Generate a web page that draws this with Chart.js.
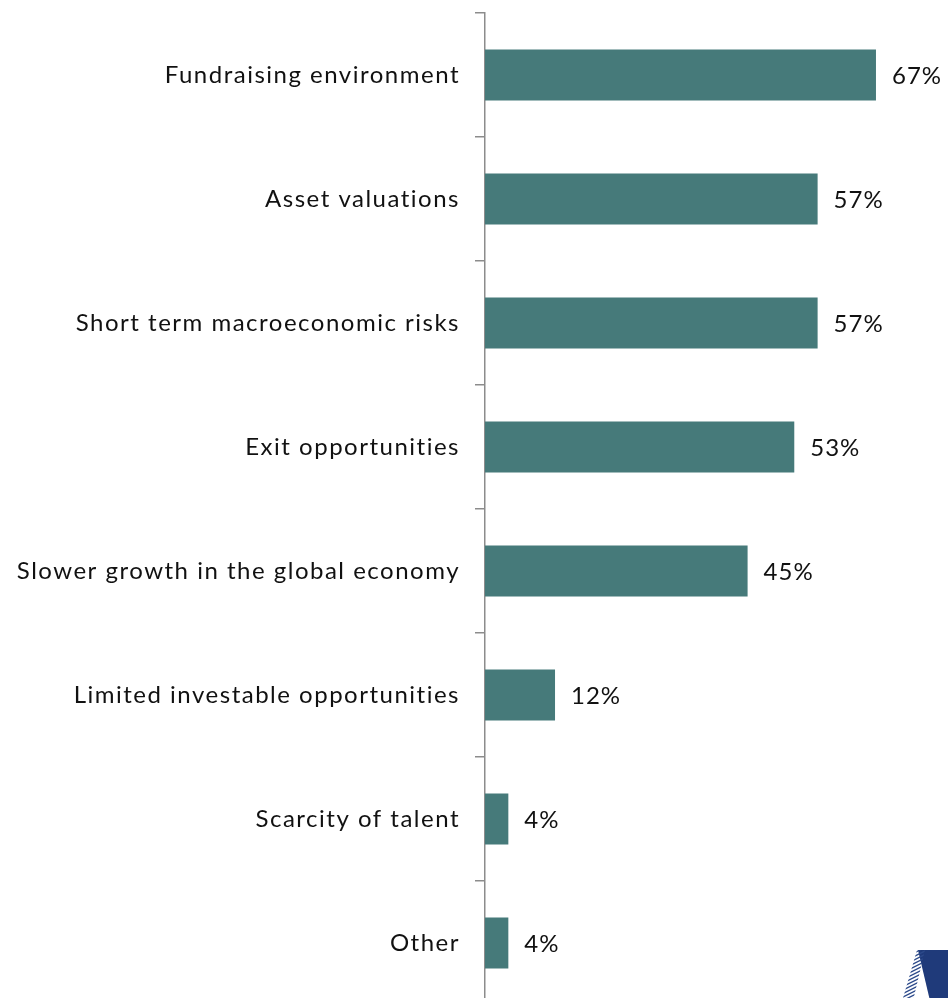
<!DOCTYPE html>
<html>
<head>
<meta charset="utf-8">
<script src="https://cdn.jsdelivr.net/npm/chart.js@4"></script>
<style>
html,body{margin:0;padding:0;background:#fff;overflow:hidden;}
#wrap{width:948px;height:1005px;position:relative;}
</style>
</head>
<body>
<div id="wrap"><canvas id="c" width="948" height="1005"></canvas></div>
<script>
const categories = [
  "Fundraising environment",
  "Asset valuations",
  "Short term macroeconomic risks",
  "Exit opportunities",
  "Slower growth in the global economy",
  "Limited investable opportunities",
  "Scarcity of talent",
  "Other"
];
const values = [67, 57, 57, 53, 45, 12, 4, 4];
const valueLabels = ["67%", "57%", "57%", "53%", "45%", "12%", "4%", "4%"];

const FONT = "Lato, 'Open Sans', sans-serif";

const spacingPlugin = {
  id: 'spacing',
  beforeDraw(chart) {
    chart.ctx.letterSpacing = '1.5px';
  }
};

const valueLabelPlugin = {
  id: 'valueLabels',
  afterDatasetsDraw(chart) {
    const ctx = chart.ctx;
    const meta = chart.getDatasetMeta(0);
    ctx.save();
    ctx.letterSpacing = '1px';
    ctx.font = "24px " + FONT;
    ctx.fillStyle = "#111";
    ctx.textAlign = "left";
    ctx.textBaseline = "middle";
    meta.data.forEach((bar, i) => {
      ctx.fillText(valueLabels[i], bar.x + 16, bar.y + 1);
    });
    ctx.restore();
  }
};

const logoPlugin = {
  id: 'logo',
  afterDraw(chart) {
    const ctx = chart.ctx;
    ctx.save();
    ctx.fillStyle = "#1f3a7a";
    ctx.beginPath();
    ctx.moveTo(918, 950); ctx.lineTo(948, 950); ctx.lineTo(948, 1005); ctx.lineTo(931, 1005);
    ctx.closePath(); ctx.fill();
    ctx.beginPath();
    ctx.moveTo(917, 950); ctx.lineTo(925, 950); ctx.lineTo(912, 1005); ctx.lineTo(901, 1005);
    ctx.closePath(); ctx.clip();
    ctx.strokeStyle = "#2c4a8a"; ctx.lineWidth = 1.2;
    for (let y = 940; y < 1010; y += 3.5) {
      ctx.beginPath(); ctx.moveTo(895, y + 12); ctx.lineTo(935, y - 8); ctx.stroke();
    }
    ctx.restore();
  }
};

new Chart(document.getElementById('c'), {
  type: 'bar',
  data: {
    labels: categories,
    datasets: [{
      data: values,
      backgroundColor: '#467a7a',
      barPercentage: 0.41,
      categoryPercentage: 1.0
    }]
  },
  options: {
    indexAxis: 'y',
    responsive: false,
    animation: false,
    layout: { padding: { top: 13, right: 2, bottom: 0, left: 0 } },
    plugins: { legend: { display: false }, tooltip: { enabled: false } },
    scales: {
      x: { display: false, min: 0, max: 79 },
      y: {
        afterFit: (s) => { s.width = 485; s.paddingTop = 0; s.paddingBottom = 0; },
        border: { display: true, color: '#8c8c8c', width: 1.5 },
        grid: { display: true, offset: true, drawOnChartArea: false, drawTicks: true, tickLength: 10, color: '#8c8c8c', lineWidth: 1.5 },
        ticks: { color: '#111', padding: 15, font: { family: FONT, size: 24 } }
      }
    }
  },
  plugins: [spacingPlugin, valueLabelPlugin, logoPlugin]
});
</script>
</body>
</html>
